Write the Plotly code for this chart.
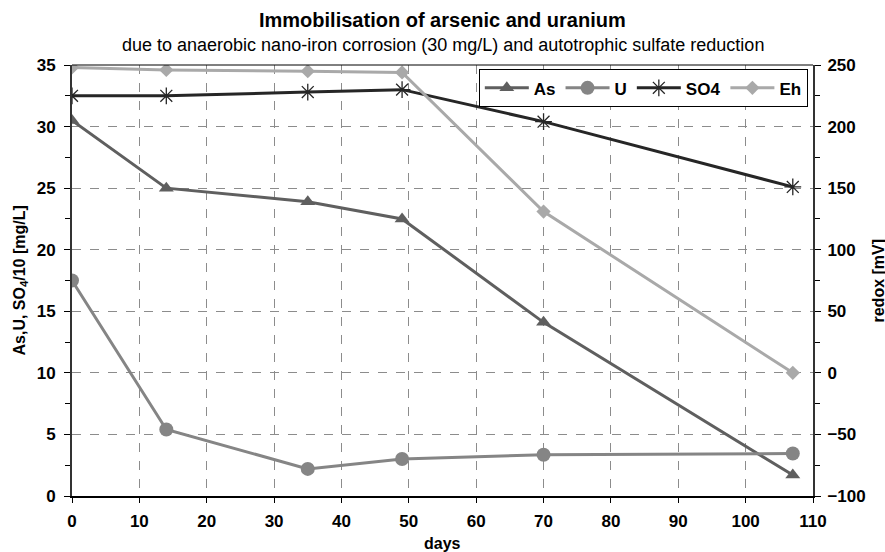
import plotly.graph_objects as go

days = [0, 14, 35, 49, 70, 107]
as_vals = [30.5, 25.0, 23.9, 22.5, 14.1, 1.7]
u_vals = [17.5, 5.4, 2.2, 3.0, 3.35, 3.45]
so4_vals = [32.5, 32.5, 32.8, 33.0, 30.4, 25.1]
eh_vals = [248, 246, 245, 244, 131, 0]

FONT = "Liberation Sans, Arial, sans-serif"

fig = go.Figure()
fig.add_trace(go.Scatter(x=days, y=as_vals, name="<b>As</b>", mode="lines+markers",
                         line=dict(color="#5f5f5f", width=3),
                         marker=dict(symbol="triangle-up", size=13, color="#5f5f5f")))
fig.add_trace(go.Scatter(x=days, y=u_vals, name="<b>U</b>", mode="lines+markers",
                         line=dict(color="#858585", width=3),
                         marker=dict(symbol="circle", size=14, color="#858585")))
fig.add_trace(go.Scatter(x=days, y=so4_vals, name="<b>SO4</b>", mode="lines+markers",
                         line=dict(color="#262626", width=3),
                         marker=dict(symbol="asterisk-open", size=14,
                                     line=dict(color="#262626", width=1.3))))
fig.add_trace(go.Scatter(x=days, y=eh_vals, name="<b>Eh</b>", mode="lines+markers", yaxis="y2",
                         line=dict(color="#a9a9a9", width=3),
                         marker=dict(symbol="diamond", size=11, color="#a9a9a9")))

grid = dict(showgrid=True, gridcolor="#8c8c8c", griddash="dash", gridwidth=1)
tickf = dict(family=FONT, size=17, color="black", weight="bold")
titf = dict(family=FONT, size=16, color="black")

fig.update_layout(
    width=885, height=552,
    margin=dict(l=72, r=72, t=65, b=56, autoexpand=False),
    paper_bgcolor="white", plot_bgcolor="white",
    font=dict(family=FONT, color="black"),
    showlegend=True,
    legend=dict(orientation="h", x=0.993, xanchor="right", y=0.99, yanchor="top",
                bordercolor="black", borderwidth=1, bgcolor="white",
                font=dict(family=FONT, size=17, color="black"),
                itemwidth=44, tracegroupgap=0),
    xaxis=dict(range=[0, 110], dtick=10, tick0=0, **grid, automargin=False,
               showline=True, linecolor="black", linewidth=1.5, mirror=False,
               ticks="outside", ticklen=5, tickcolor="black", tickfont=tickf,
               ticklabelstandoff=4, zeroline=False),
    yaxis=dict(range=[0, 35], dtick=5, tick0=0, **grid, automargin=False,
               showline=True, linecolor="#333333", linewidth=2,
               ticks="outside", ticklen=6, tickcolor="black", tickfont=tickf,
               ticklabelstandoff=5,
               minor=dict(dtick=2.5, ticks="outside", ticklen=5, tickcolor="black", showgrid=False),
               zeroline=False),
    yaxis2=dict(range=[-100, 250], dtick=50, tick0=-100, overlaying="y", side="right",
                automargin=False,
                showgrid=False, showline=True, linecolor="#333333", linewidth=2,
                ticks="outside", ticklen=6, tickcolor="black", tickfont=tickf,
                ticklabelstandoff=3,
                minor=dict(dtick=25, ticks="outside", ticklen=5, tickcolor="black"),
                zeroline=False),
    shapes=[dict(type="line", xref="paper", yref="paper", x0=0, x1=1, y0=1, y1=1,
                 line=dict(color="black", width=1))],
    annotations=[
        dict(text="<b>Immobilisation of arsenic and uranium</b>", xref="paper", yref="paper",
             x=0.5, y=1, yshift=45, xanchor="center", yanchor="middle", showarrow=False,
             font=dict(family=FONT, size=20, color="black")),
        dict(text="due to anaerobic nano-iron corrosion (30 mg/L) and autotrophic sulfate reduction",
             xref="paper", yref="paper", x=0.5, y=1, yshift=20, xanchor="center", yanchor="middle",
             showarrow=False, font=dict(family=FONT, size=18, color="black")),
        dict(text="<b>days</b>", xref="paper", yref="paper", x=0.5, y=0, yshift=-47,
             xanchor="center", yanchor="middle", showarrow=False, font=titf),
        dict(text="<b>As,U, SO<sub>4</sub>/10 [mg/L]</b>", xref="paper", yref="paper",
             x=0, xshift=-52, y=0.5, xanchor="center", yanchor="middle", showarrow=False,
             textangle=-90, font=titf),
        dict(text="<b>redox [mV]</b>", xref="paper", yref="paper",
             x=1, xshift=65, y=0.5, xanchor="center", yanchor="middle", showarrow=False,
             textangle=-90, font=titf),
    ],
)

fig.write_html("out.html", config={"displayModeBar": False},
               post_script="document.body.style.margin='0';document.body.style.overflow='hidden';")
